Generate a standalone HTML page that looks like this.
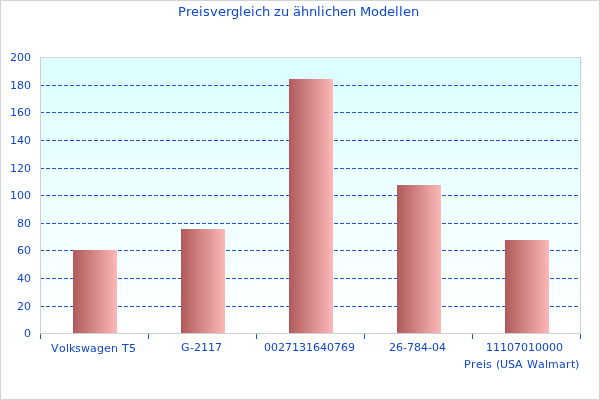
<!DOCTYPE html>
<html><head><meta charset="utf-8">
<style>
html,body{margin:0;padding:0;background:#fff;}
svg{display:block;}
text{font-family:"DejaVu Sans","Liberation Sans",sans-serif;fill:#0e47d0;}
</style></head><body>
<svg width="600" height="400" viewBox="0 0 600 400">
<defs>
<linearGradient id="bg" x1="0" y1="0" x2="0" y2="1"><stop offset="0" stop-color="#dcffff"/><stop offset="1" stop-color="#ffffff"/></linearGradient>
<linearGradient id="bar" x1="0" y1="0" x2="1" y2="0"><stop offset="0" stop-color="#b05a5a"/><stop offset="1" stop-color="#fdb8b8"/></linearGradient>
</defs>
<rect x="0" y="0" width="600" height="400" fill="#fff"/>
<rect x="0.5" y="0.5" width="599" height="399" fill="none" stroke="#d3d3d3"/>
<rect x="40" y="57" width="542" height="277" fill="url(#bg)"/>
<g stroke="#2456cc" stroke-width="1" stroke-dasharray="4,2" shape-rendering="crispEdges">
<line x1="40" y1="85.5" x2="580" y2="85.5"/>
<line x1="40" y1="112.5" x2="580" y2="112.5"/>
<line x1="40" y1="140.5" x2="580" y2="140.5"/>
<line x1="40" y1="168.5" x2="580" y2="168.5"/>
<line x1="40" y1="195.5" x2="580" y2="195.5"/>
<line x1="40" y1="223.5" x2="580" y2="223.5"/>
<line x1="40" y1="250.5" x2="580" y2="250.5"/>
<line x1="40" y1="278.5" x2="580" y2="278.5"/>
<line x1="40" y1="306.5" x2="580" y2="306.5"/>
</g>
<rect x="40.5" y="57.5" width="540" height="276" fill="none" stroke="#d0d0d0"/>
<g fill="url(#bar)">
<rect x="73" y="250" width="44" height="83"/>
<rect x="181" y="229" width="44" height="104"/>
<rect x="289" y="79" width="44" height="254"/>
<rect x="397" y="185" width="44" height="148"/>
<rect x="505" y="240" width="44" height="93"/>
</g>
<g stroke="#0a64cf" stroke-width="1" shape-rendering="crispEdges">
<line x1="40.5" y1="334" x2="40.5" y2="339"/>
<line x1="148.5" y1="334" x2="148.5" y2="339"/>
<line x1="256.5" y1="334" x2="256.5" y2="339"/>
<line x1="364.5" y1="334" x2="364.5" y2="339"/>
<line x1="472.5" y1="334" x2="472.5" y2="339"/>
<line x1="580.5" y1="334" x2="580.5" y2="339"/>
</g>
<text x="178 186 191 199 203 210 218 226 231 239 243 251 255 262 270 274 281 289 293 301 309 317 321 325 332 340 348 356 360 371 379 387 395 399 403 411" y="16" font-size="13">Preisvergleich zu ähnlichen Modellen</text>
<text x="10 17 24" y="61" font-size="11">200</text>
<text x="10 17 24" y="89" font-size="11">180</text>
<text x="10 17 24" y="116" font-size="11">160</text>
<text x="10 17 24" y="144" font-size="11">140</text>
<text x="10 17 24" y="172" font-size="11">120</text>
<text x="10 17 24" y="199" font-size="11">100</text>
<text x="17 24" y="227" font-size="11">80</text>
<text x="17 24" y="254" font-size="11">60</text>
<text x="17 24" y="282" font-size="11">40</text>
<text x="17 24" y="310" font-size="11">20</text>
<text x="24" y="337" font-size="11">0</text>
<text x="51 59 66 69 75 81 90 97 104 111 118 122 129" y="352" font-size="11">Volkswagen T5</text>
<text x="181 190 194 201 208 215" y="351" font-size="11">G-2117</text>
<text x="264 271 278 285 292 299 306 313 320 327 334 341 348" y="351" font-size="11">0027131640769</text>
<text x="389 396 403 407 414 421 428 432 439" y="351" font-size="11">26-784-04</text>
<text x="486 493 500 507 514 521 528 535 542 549 556" y="351" font-size="11">11107010000</text>
<text x="464 471 476 483 486 492 496 500 508 515 523 527 538 545 548 559 566 571 575" y="368" font-size="11">Preis (USA Walmart)</text>
</svg>
</body></html>
